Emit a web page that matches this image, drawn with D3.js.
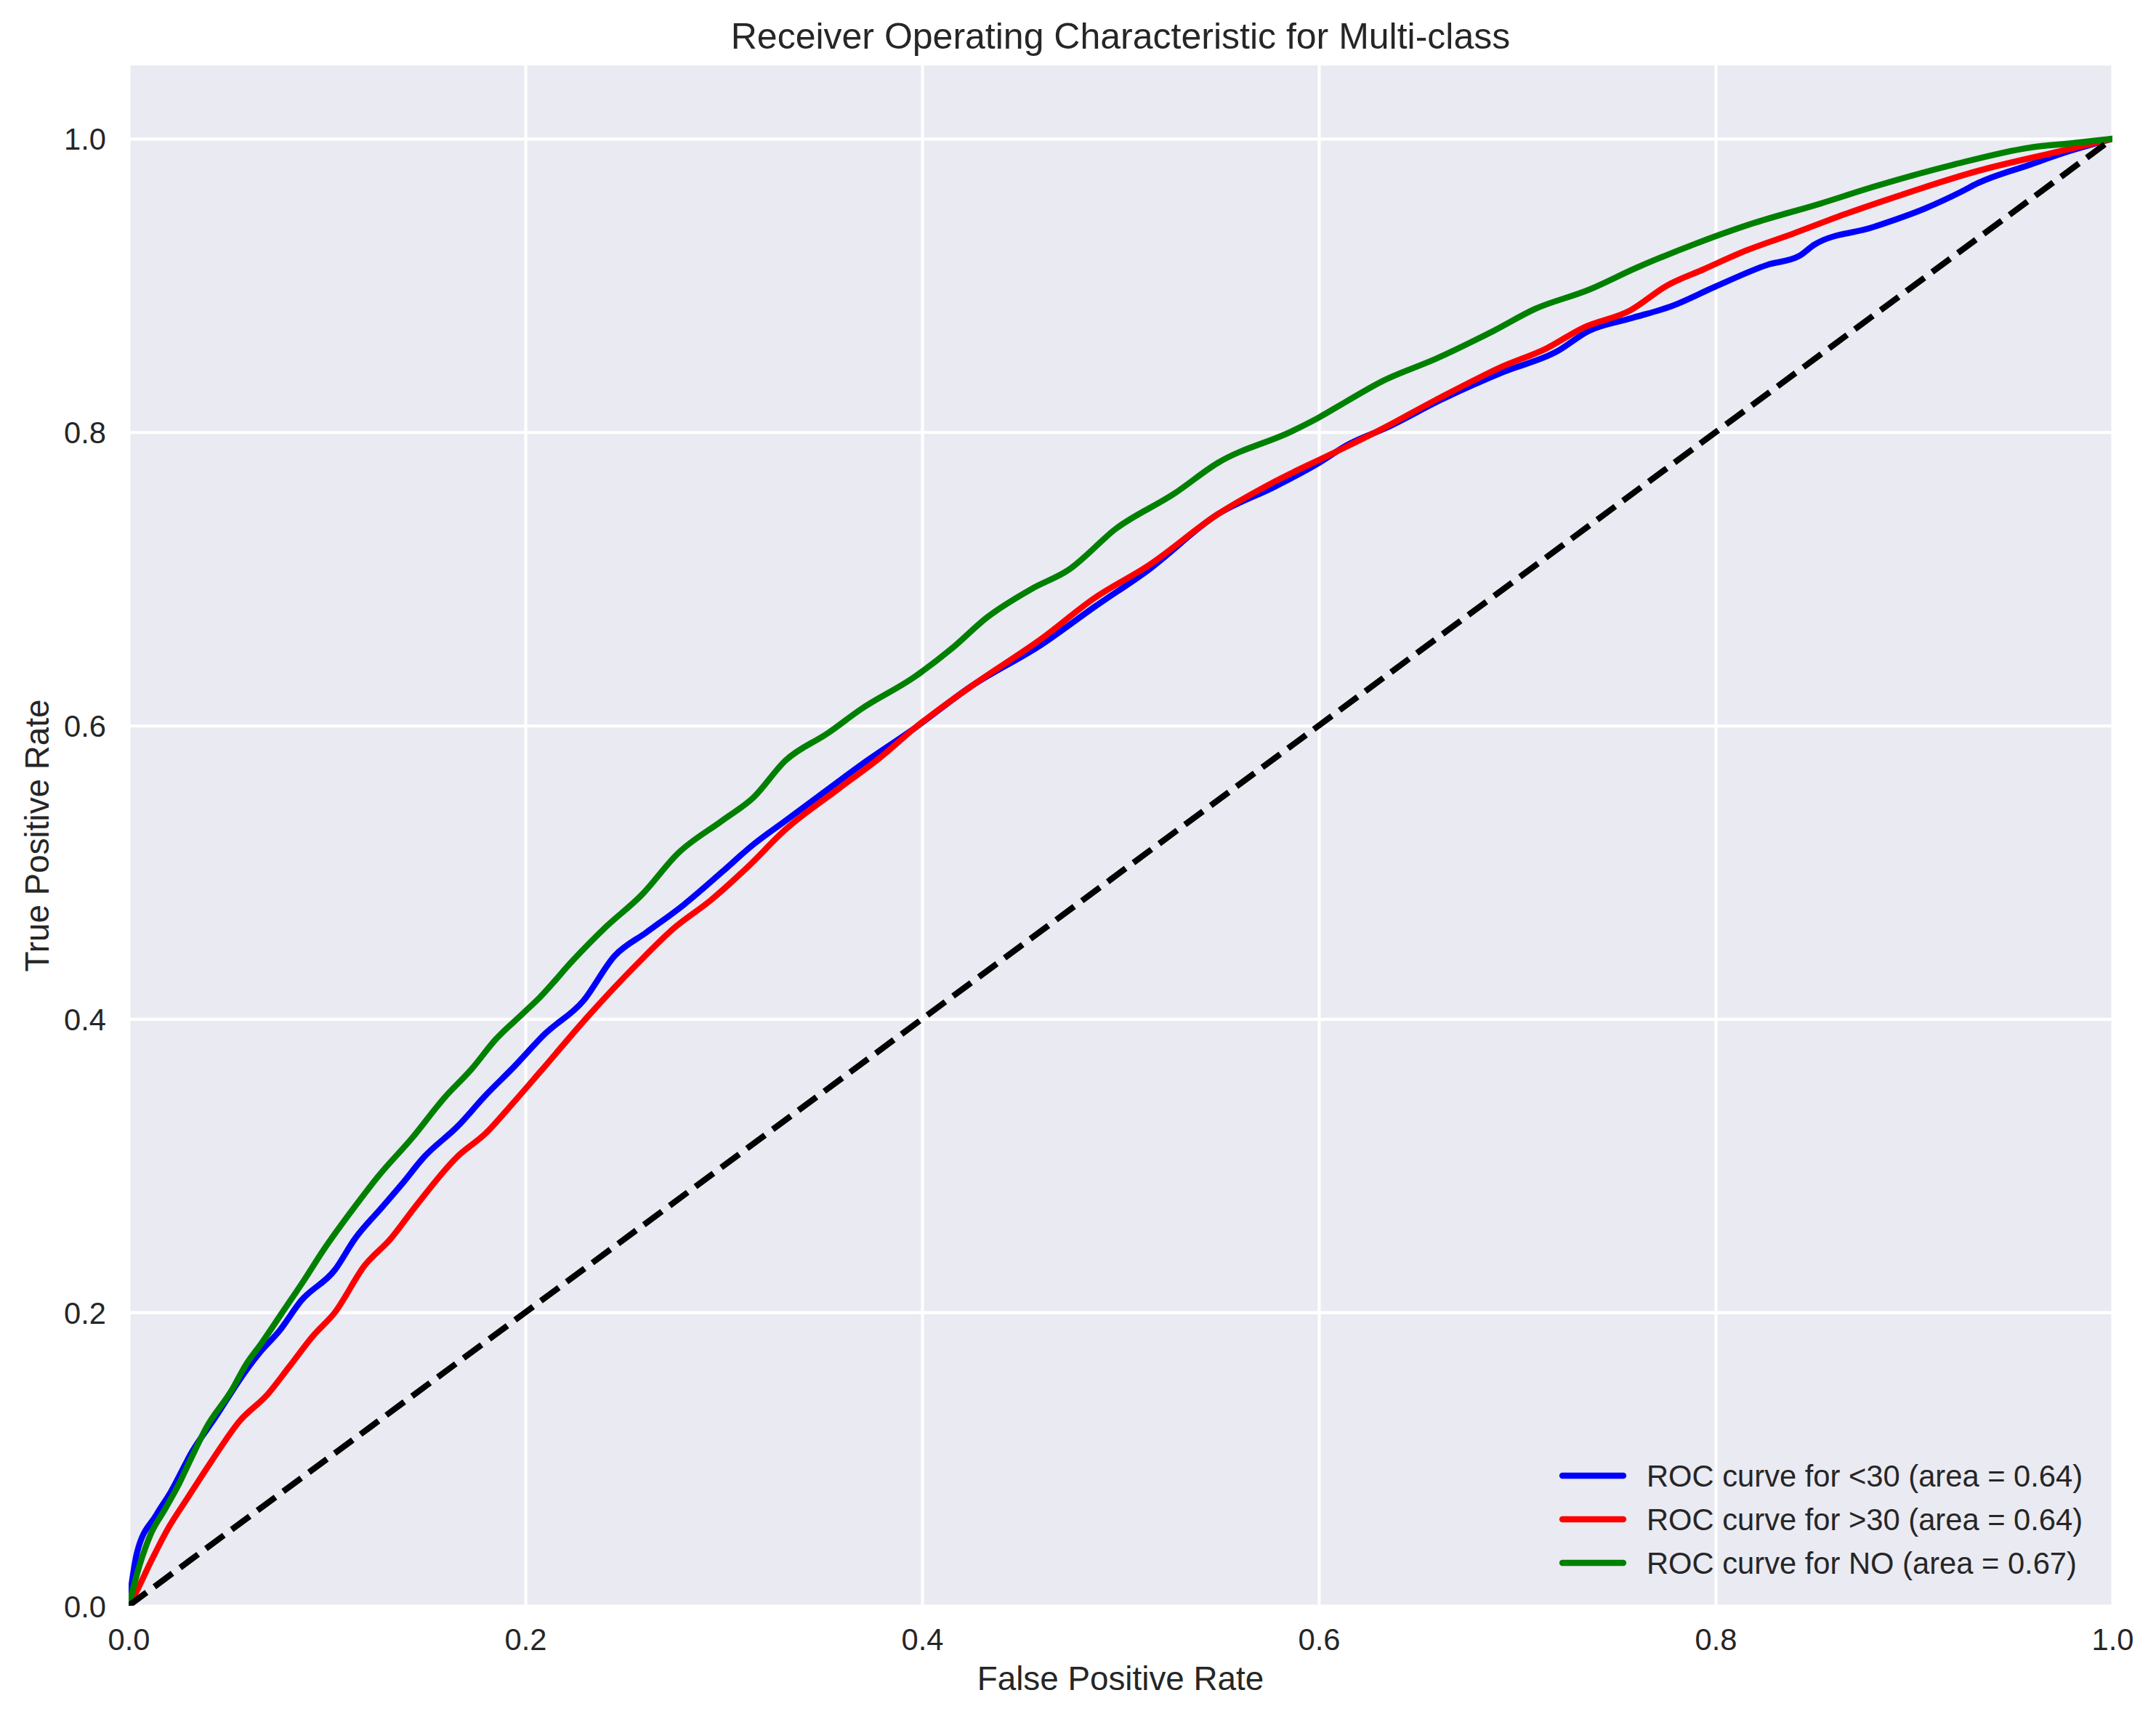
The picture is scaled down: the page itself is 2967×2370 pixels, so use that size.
<!DOCTYPE html>
<html>
<head>
<meta charset="utf-8">
<script src="https://cdn.jsdelivr.net/npm/d3@7"></script>
<style>
  html, body { margin: 0; padding: 0; background: #ffffff; }
  svg { display: block; }
  text { font-family: "Liberation Sans", Arial, sans-serif; fill: #262626; }
</style>
</head>
<body>
<svg id="chart" width="2967" height="2370"></svg>
<script>
// ---------------- data ----------------
const classNames = ["<30", ">30", "NO"];
const aucValues = [0.64, 0.64, 0.67];

const fprLt30 = [0,0.0042,0.014,0.021,0.032,0.0435,0.059,0.067,0.0758,0.087,0.104,0.114,0.128,0.1375,0.149,0.166,0.18,0.194,0.210,0.229,0.245,0.261,0.28,0.299,0.315,0.331,0.35,0.369,0.396,0.425,0.46,0.487,0.514,0.549,0.578,0.6,0.614,0.635,0.6615,0.693,0.72,0.736,0.757,0.778,0.7995,0.826,0.842,0.85,0.879,0.9056,0.924,0.932,0.9586,0.977,1];
const tprLt30 = [0,0.036,0.062,0.077,0.105,0.128,0.160,0.174,0.187,0.208,0.229,0.25,0.272,0.287,0.306,0.327,0.348,0.367,0.390,0.412,0.443,0.459,0.478,0.50,0.519,0.535,0.554,0.573,0.598,0.627,0.655,0.681,0.706,0.744,0.763,0.779,0.791,0.8036,0.822,0.841,0.855,0.869,0.8775,0.886,0.899,0.914,0.920,0.928,0.9396,0.9525,0.964,0.9696,0.9824,0.991,1];

const fprGt30 = [0,0.0028,0.0112,0.0196,0.0295,0.042,0.056,0.070,0.081,0.093,0.104,0.119,0.132,0.1445,0.1656,0.18,0.194,0.2075,0.2317,0.256,0.275,0.2935,0.312,0.331,0.358,0.3796,0.396,0.425,0.46,0.487,0.514,0.549,0.578,0.6085,0.6324,0.659,0.693,0.7146,0.733,0.757,0.7756,0.794,0.815,0.839,0.866,0.892,0.932,0.972,1];
const tprGt30 = [0,0.0066,0.030,0.052,0.073,0.099,0.126,0.144,0.163,0.184,0.2,0.232,0.250,0.272,0.306,0.322,0.343,0.364,0.402,0.437,0.462,0.481,0.5035,0.529,0.557,0.579,0.598,0.627,0.659,0.687,0.709,0.744,0.7665,0.7865,0.8026,0.822,0.845,0.857,0.871,0.883,0.9,0.911,0.9236,0.9353,0.949,0.961,0.978,0.991,1];

const fprNo = [0,0.0056,0.0112,0.018,0.025,0.031,0.039,0.052,0.059,0.067,0.079,0.088,0.098,0.114,0.126,0.143,0.159,0.173,0.185,0.199,0.2075,0.224,0.240,0.2586,0.277,0.299,0.315,0.331,0.3527,0.369,0.396,0.4145,0.433,0.455,0.4737,0.498,0.527,0.549,0.587,0.6,0.614,0.6324,0.659,0.688,0.709,0.736,0.76,0.789,0.818,0.8525,0.879,0.919,0.9586,0.98,1];
const tprNo = [0,0.028,0.049,0.065,0.082,0.099,0.121,0.147,0.164,0.179,0.203,0.221,0.242,0.272,0.293,0.319,0.346,0.366,0.386,0.404,0.415,0.44,0.462,0.4845,0.513,0.535,0.551,0.576,0.595,0.611,0.633,0.652,0.674,0.693,0.706,0.7345,0.758,0.779,0.801,0.81,0.821,0.835,0.85,0.869,0.884,0.897,0.912,0.928,0.942,0.9557,0.967,0.982,0.994,0.997,1];

const chanceX = [0, 1];
const chanceY = [0, 1];

const xTickValues = [0, 0.2, 0.4, 0.6, 0.8, 1.0];
const yTickValues = [0, 0.2, 0.4, 0.6, 0.8, 1.0];

// ---------------- styles / layout ----------------
const seriesColors = ["#0000ff", "#ff0000", "#008000"];
const W = 2967, H = 2370;
const plot = { left: 177, right: 2907, top: 90, bottom: 2210 };
const lw = 8.33;

const svg = d3.select("#chart");
svg.append("rect").attr("width", W).attr("height", H).attr("fill", "#ffffff");

const x = d3.scaleLinear().domain([0, 1]).range([plot.left, plot.right]);
const y = d3.scaleLinear().domain([0, 1.05]).range([plot.bottom, plot.top]);

// background
svg.append("rect")
  .attr("x", plot.left).attr("y", plot.top)
  .attr("width", plot.right - plot.left).attr("height", plot.bottom - plot.top)
  .attr("fill", "#eaeaf2");

svg.append("defs").append("clipPath").attr("id", "clip")
  .append("rect")
  .attr("x", plot.left).attr("y", plot.top)
  .attr("width", plot.right - plot.left).attr("height", plot.bottom - plot.top);

// grid via axes (outer untransformed group carries the clip)
const fmt = d3.format(".1f");
const gridLayer = svg.append("g").attr("clip-path", "url(#clip)");
const gx = gridLayer.append("g")
  .attr("transform", `translate(0,${plot.bottom})`)
  .call(d3.axisBottom(x).tickValues(xTickValues).tickSize(-(plot.bottom - plot.top)).tickFormat(""));
gx.select(".domain").remove();
gx.selectAll(".tick line").attr("stroke", "#ffffff").attr("stroke-width", 4.17);

const gy = gridLayer.append("g")
  .attr("transform", `translate(${plot.left},0)`)
  .call(d3.axisLeft(y).tickValues(yTickValues).tickSize(-(plot.right - plot.left)).tickFormat(""));
gy.select(".domain").remove();
gy.selectAll(".tick line").attr("stroke", "#ffffff").attr("stroke-width", 4.17);

// tick labels via axes
const axX = svg.append("g")
  .attr("transform", `translate(0,${plot.bottom})`)
  .call(d3.axisBottom(x).tickValues(xTickValues).tickSize(0).tickPadding(0).tickFormat(fmt));
axX.select(".domain").remove();
axX.selectAll("text")
  .attr("y", 61).attr("dy", null)
  .style("font-size", "41.7px").style("font-family", "'Liberation Sans', Arial, sans-serif")
  .attr("fill", "#262626");

const axY = svg.append("g")
  .attr("transform", `translate(${plot.left},0)`)
  .call(d3.axisLeft(y).tickValues(yTickValues).tickSize(0).tickPadding(0).tickFormat(fmt));
axY.select(".domain").remove();
axY.selectAll("text")
  .attr("x", -31).attr("dy", "0.36em")
  .style("font-size", "41.7px").style("font-family", "'Liberation Sans', Arial, sans-serif")
  .attr("fill", "#262626");

// curves
const seriesData = [
  d3.zip(fprLt30, tprLt30),
  d3.zip(fprGt30, tprGt30),
  d3.zip(fprNo, tprNo)
];
const line = d3.line().x(d => x(d[0])).y(d => y(d[1])).curve(d3.curveMonotoneX);
const straight = d3.line().x(d => x(d[0])).y(d => y(d[1]));
const curves = svg.append("g").attr("clip-path", "url(#clip)");
seriesData.forEach((pts, i) => {
  curves.append("path")
    .attr("d", line(pts))
    .attr("fill", "none")
    .attr("stroke", seriesColors[i])
    .attr("stroke-width", lw)
    .attr("stroke-linejoin", "round")
    .attr("stroke-linecap", "square");
});
curves.append("path")
  .attr("d", straight(d3.zip(chanceX, chanceY)))
  .attr("fill", "none")
  .attr("stroke", "#000000")
  .attr("stroke-width", lw)
  .attr("stroke-dasharray", "30.8,13.3")
  .attr("stroke-linecap", "butt");

// title & labels
svg.append("text")
  .attr("x", (plot.left + plot.right) / 2).attr("y", 67)
  .attr("text-anchor", "middle")
  .style("font-size", "50px")
  .text("Receiver Operating Characteristic for Multi-class");

svg.append("text")
  .attr("x", (plot.left + plot.right) / 2).attr("y", 2326)
  .attr("text-anchor", "middle")
  .style("font-size", "45.8px")
  .text("False Positive Rate");

svg.append("text")
  .attr("transform", `translate(67,${(plot.top + plot.bottom) / 2}) rotate(-90)`)
  .attr("text-anchor", "middle")
  .style("font-size", "45.8px")
  .text("True Positive Rate");

// legend
const legendRowY = d3.scalePoint().domain(classNames).range([2031, 2151]);
const legend = svg.append("g");
classNames.forEach((c, i) => {
  const cy = legendRowY(c);
  legend.append("line")
    .attr("x1", 2150).attr("x2", 2234)
    .attr("y1", cy).attr("y2", cy)
    .attr("stroke", seriesColors[i])
    .attr("stroke-width", lw)
    .attr("stroke-linecap", "round");
  legend.append("text")
    .attr("x", 2266).attr("y", cy).attr("dy", "0.36em")
    .style("font-size", "41.7px")
    .text(`ROC curve for ${c} (area = ${aucValues[i].toFixed(2)})`);
});
</script>
</body>
</html>
